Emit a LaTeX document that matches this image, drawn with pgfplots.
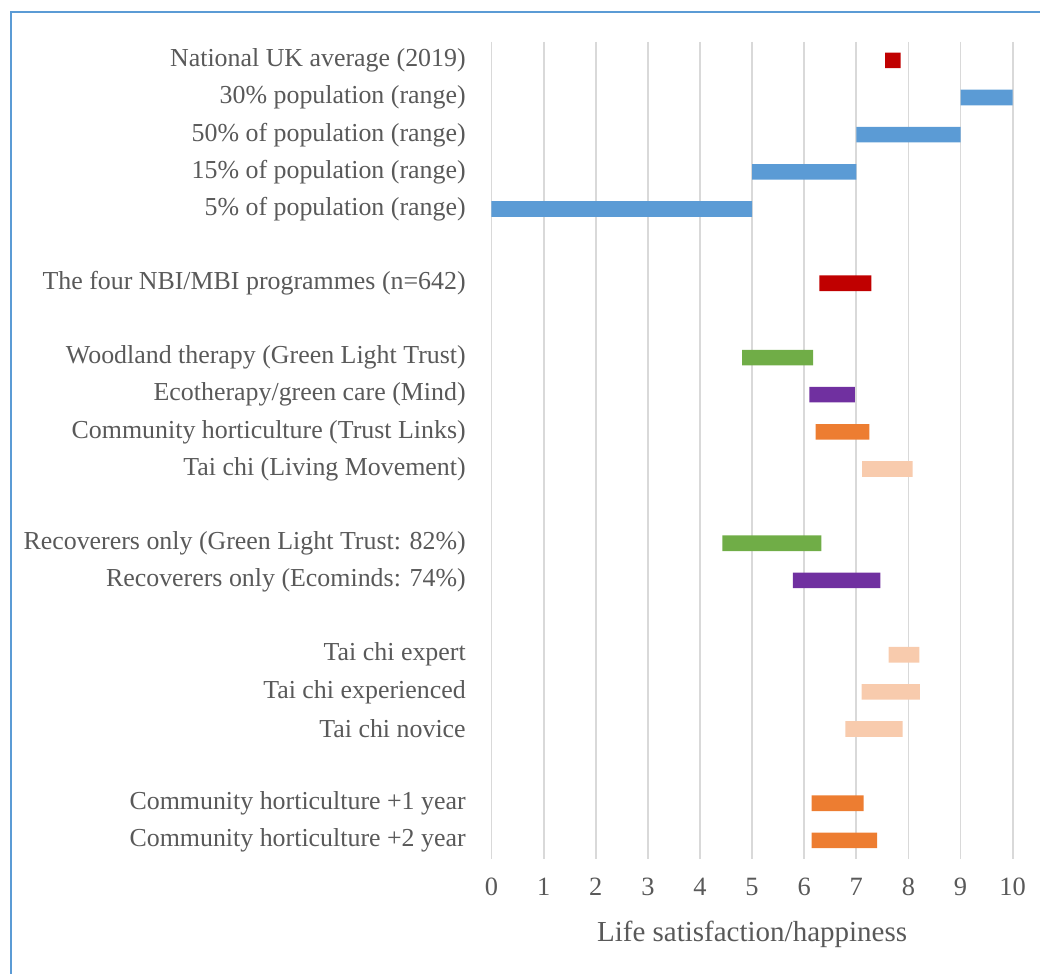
\documentclass[border=0pt]{standalone}
\usepackage{fontspec}
\setmainfont{Liberation Serif}
\usepackage{pgfplots}
\usepackage{pgfplotstable}
\pgfplotsset{compat=1.18}
\definecolor{txt}{HTML}{595959}
\definecolor{grd}{HTML}{D9D9D9}
\definecolor{cblue}{HTML}{5B9BD5}
\definecolor{cred}{HTML}{C00000}
\definecolor{cgreen}{HTML}{70AD47}
\definecolor{cpurple}{HTML}{7030A0}
\definecolor{corange}{HTML}{ED7D31}
\definecolor{cpeach}{HTML}{F8CBAD}
\pgfplotstableread{
row start blue red green purple orange peach
0  7.55 0 0.30 0 0 0 0
1  9.00 1 0 0 0 0 0
2  7.00 2 0 0 0 0 0
3  5.00 2 0 0 0 0 0
4  0.00 5 0 0 0 0 0
5  0.00 0 0 0 0 0 0
6  6.29 0 1.00 0 0 0 0
7  0.00 0 0 0 0 0 0
8  4.81 0 0 1.36 0 0 0
9  6.10 0 0 0 0.87 0 0
10 6.22 0 0 0 0 1.03 0
11 7.11 0 0 0 0 0 0.97
12 0.00 0 0 0 0 0 0
13 4.43 0 0 1.90 0 0 0
14 5.78 0 0 0 1.68 0 0
15 0.00 0 0 0 0 0 0
16 7.62 0 0 0 0 0 0.59
17 7.10 0 0 0 0 0 1.12
18 6.79 0 0 0 0 0 1.10
19 0.00 0 0 0 0 0 0
20 6.14 0 0 0 0 1.00 0
21 6.14 0 0 0 0 1.26 0
}\datatable
\begin{document}
\begin{tikzpicture}
\path[use as bounding box] (0,0) rectangle (520pt,-487pt);
\draw[cblue, line width=1pt] (5.5pt,-490pt) -- (5.5pt,-6.2pt) -- (525pt,-6.2pt);
\begin{axis}[
  at={(245.75pt,-429.5pt)}, anchor=south west,
  scale only axis, width=260.6pt, height=408.6pt,
  xbar stacked, bar width=7.8pt,
  xmin=0, xmax=10, ymin=-0.5, ymax=21.5, y dir=reverse,
  xtick={0,1,...,10}, ytick={0,1,...,21},
  yticklabels={National UK average (2019),30\% population (range),50\% of population (range),15\% of population (range),5\% of population (range),{},The four NBI/MBI programmes (n=642),{},Woodland therapy (Green Light Trust),Ecotherapy/green care (Mind),Community horticulture (Trust Links),Tai chi (Living Movement),{},Recoverers only (Green Light Trust: 82\%),Recoverers only (Ecominds: 74\%),{},Tai chi expert,Tai chi experienced,Tai chi novice,{},Community horticulture +1 year,Community horticulture +2 year},
  xmajorgrids, grid style={grd, line width=0.9pt},
  axis line style={draw=none}, major tick length=0pt,
  /pgf/number format/assume math mode=true,
  tick label style={font=\fontsize{12.95}{14}\selectfont, text=txt},
  yticklabel style={anchor=east, inner sep=0pt, xshift=-12.7pt},
  xticklabel style={anchor=center, inner sep=0pt, yshift=-14pt, font=\fontsize{13.2}{14}\selectfont},
  xlabel={Life satisfaction/happiness},
  xlabel style={at={(axis description cs:0.5,0)}, anchor=center, yshift=-37.5pt, font=\fontsize{14.5}{16}\selectfont, text=txt},
  every axis plot/.append style={draw=none},
]
\addplot[fill=none, draw=none] table[x=start, y=row] {\datatable};
\addplot[fill=cblue] table[x=blue, y=row] {\datatable};
\addplot[fill=cred] table[x=red, y=row] {\datatable};
\addplot[fill=cgreen] table[x=green, y=row] {\datatable};
\addplot[fill=cpurple] table[x=purple, y=row] {\datatable};
\addplot[fill=corange] table[x=orange, y=row] {\datatable};
\addplot[fill=cpeach] table[x=peach, y=row] {\datatable};
\end{axis}
\end{tikzpicture}
\end{document}
